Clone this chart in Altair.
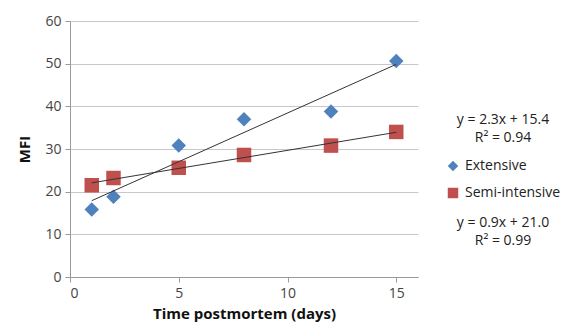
import altair as alt
import pandas as pd

days = [1, 2, 5, 8, 12, 15]
extensive = [15.8, 18.8, 30.8, 37.0, 38.8, 50.6]
semi_intensive = [21.5, 23.2, 25.6, 28.6, 30.8, 34.0]
series_names = ["Extensive", "Semi-intensive"]
series_colors = ["#4F81BD", "#C0504D"]
series_shapes = ["diamond", "square"]
eq_lines = ["y = 2.3x + 15.4", "R² = 0.94", "y = 0.9x + 21.0", "R² = 0.99"]

df = pd.DataFrame(
    [{"x": d, "y": v, "series": series_names[0]} for d, v in zip(days, extensive)]
    + [{"x": d, "y": v, "series": series_names[1]} for d, v in zip(days, semi_intensive)]
)

FONT = "Open Sans"

xscale = alt.Scale(domain=[0, 16], nice=False)
yscale = alt.Scale(domain=[0, 60], nice=False)

base = alt.Chart(df)

points = base.mark_point(filled=True, opacity=1, size=210).encode(
    x=alt.X("x:Q", scale=xscale,
            axis=alt.Axis(values=[0, 5, 10, 15], title="Time postmortem (days)", grid=False,
                          tickSize=5, labelPadding=4, titlePadding=6)),
    y=alt.Y("y:Q", scale=yscale,
            axis=alt.Axis(values=[0, 10, 20, 30, 40, 50, 60], title="MFI", grid=True,
                          tickSize=5, labelPadding=4, titlePadding=12)),
    color=alt.Color("series:N", scale=alt.Scale(domain=series_names, range=series_colors),
                    legend=alt.Legend(title=None, orient="none", legendX=376, legendY=138,
                                      symbolSize=110, labelFontSize=14, labelFont=FONT,
                                      labelColor="#222222", rowPadding=13, symbolOpacity=1,
                                      labelOffset=5, padding=0)),
    shape=alt.Shape("series:N", scale=alt.Scale(domain=series_names, range=series_shapes),
                    legend=None),
)

trend = base.transform_regression("x", "y", groupby=["series"], extent=[1, 15]).mark_line(
    color="#333333", strokeWidth=1
).encode(x=alt.X("x:Q", scale=xscale), y=alt.Y("y:Q", scale=yscale), detail="series:N")

eq_df = pd.DataFrame({"t": eq_lines, "k": [0, 1, 2, 3]})
ypos = {0: 99, 1: 117, 2: 202, 3: 220}
eq_layers = []
for k, t in enumerate(eq_lines):
    eq_layers.append(
        alt.Chart(eq_df[eq_df.k == k]).mark_text(
            font=FONT, fontSize=14, color="#222222", align="center", baseline="middle"
        ).encode(text="t:N", x=alt.value(433), y=alt.value(ypos[k]))
    )

chart = alt.layer(points, trend, *eq_layers).properties(
    width=348, height=256,
    autosize=alt.AutoSizeParams(type="none"),
    padding={"left": 62, "top": 13, "right": 145, "bottom": 49},
).configure_view(stroke=None).configure_axis(
    labelFont=FONT, titleFont=FONT, labelFontSize=14, titleFontSize=15,
    labelColor="#444444", titleColor="#111111", titleFontWeight="bold",
    domainColor="#9a9a9a", tickColor="#9a9a9a", gridColor="#c8c8c8",
).configure_axisY(domain=True)

chart.save("out.html", embed_options={"renderer": "svg", "actions": False})
